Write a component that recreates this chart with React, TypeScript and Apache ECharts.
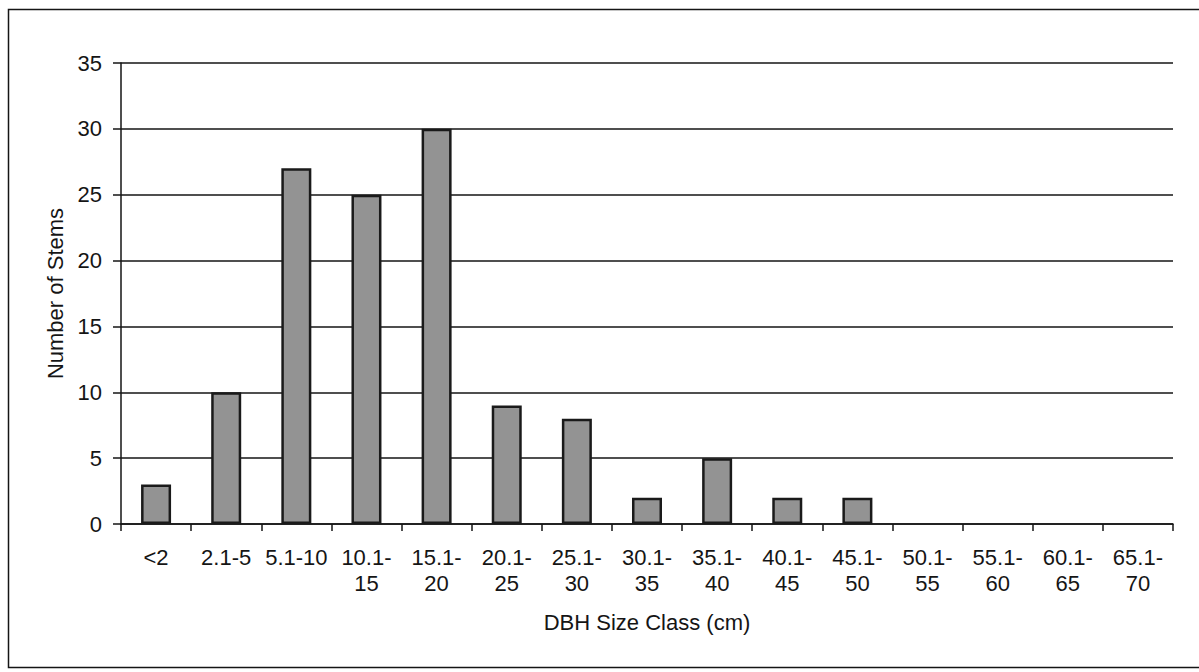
import React, { useEffect, useRef } from "react";
import * as echarts from "echarts";

const categories = [
  "<2", "2.1-5", "5.1-10", "10.1-\n15", "15.1-\n20", "20.1-\n25", "25.1-\n30",
  "30.1-\n35", "35.1-\n40", "40.1-\n45", "45.1-\n50", "50.1-\n55", "55.1-\n60",
  "60.1-\n65", "65.1-\n70",
];
const stems = [3, 10, 27, 25, 30, 9, 8, 2, 5, 2, 2, 0, 0, 0, 0];
const yTicks = { min: 0, max: 35, interval: 5 };

const FONT = "'Liberation Sans', Arial, sans-serif";
const INK = "#151515";
const FS = 22;

export default function App() {
  const ref = useRef<HTMLDivElement>(null);
  useEffect(() => {
    if (!ref.current) return;
    const chart = echarts.init(ref.current, null, { renderer: "svg" });
    chart.setOption({
      animation: false,
      backgroundColor: "#ffffff",
      textStyle: { fontFamily: FONT, color: INK },
      grid: { left: 121, right: 26, top: 63, bottom: 148, containLabel: false },
      graphic: [
        {
          type: "rect",
          shape: { x: 8.5, y: 9.5, width: 1200, height: 658 },
          style: { fill: "none", stroke: INK, lineWidth: 1.5 },
          silent: true,
          z: 100,
        },
      ],
      xAxis: {
        type: "category",
        data: categories,
        name: "DBH Size Class (cm)",
        nameLocation: "middle",
        nameGap: 87,
        nameTextStyle: { fontSize: FS, color: INK, fontFamily: FONT },
        axisLine: { lineStyle: { color: INK, width: 1.5 } },
        axisTick: { show: true, length: 7, lineStyle: { color: INK, width: 1.5 } },
        axisLabel: {
          interval: 0,
          fontSize: FS,
          color: INK,
          fontFamily: FONT,
          margin: 20,
          lineHeight: 26,
          align: "center",
        },
      },
      yAxis: {
        type: "value",
        min: yTicks.min,
        max: yTicks.max,
        interval: yTicks.interval,
        name: "Number of Stems",
        nameLocation: "middle",
        nameGap: 50,
        nameRotate: 90,
        nameTextStyle: { fontSize: FS, color: INK, fontFamily: FONT },
        axisLine: { show: true, lineStyle: { color: INK, width: 1.5 } },
        axisTick: { show: true, length: 8, lineStyle: { color: INK, width: 1.5 } },
        axisLabel: { fontSize: FS, color: INK, fontFamily: FONT, margin: 19 },
        splitLine: { show: true, lineStyle: { color: INK, width: 1.5 } },
      },
      series: [
        {
          type: "bar",
          data: stems.map((v) => (v === 0 ? { value: v, itemStyle: { borderWidth: 0 } } : v)),
          barWidth: 30,
          itemStyle: { color: "#939393", borderColor: "#1a1a1a", borderWidth: 2.5 },
        },
      ],
    });
    return () => chart.dispose();
  }, []);
  return (
    <div
      ref={ref}
      style={{ position: "fixed", left: 0, top: 0, width: 1199, height: 672, background: "#fff" }}
    />
  );
}
